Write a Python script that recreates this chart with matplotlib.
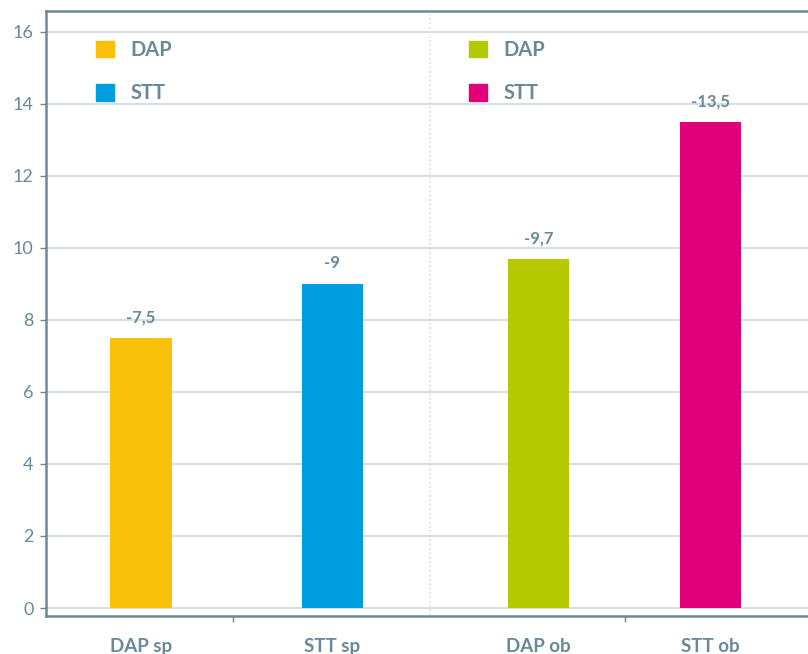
import matplotlib.pyplot as plt
from matplotlib.patches import Patch

plt.rcParams['font.family'] = ['Lato', 'DejaVu Sans']

categories = ['DAP sp', 'STT sp', 'DAP ob', 'STT ob']
values = [7.5, 9.0, 9.7, 13.5]
value_labels = ['-7,5', '-9', '-9,7', '-13,5']
colors = ['#FBC00A', '#009EE0', '#B5C900', '#E2007A']
legend_names = ['DAP', 'STT']

text_col = '#6A8898'
grid_col = '#CDD7E0'

# bar positions (two groups, slightly uneven like the original)
xpos = [0.0, 1.0, 2.08, 2.98]

fig = plt.figure(figsize=(8.08, 6.54), dpi=100)
ax = fig.add_axes([46 / 808, 1 - 616 / 654, 1 - 46 / 808, 605 / 654])

bars = ax.bar(xpos, values, width=0.32, color=colors, zorder=3)

for x, v, lab in zip(xpos, values, value_labels):
    ax.annotate(lab, (x, v), xytext=(0, 9), textcoords='offset points',
                ha='center', va='bottom', fontsize=12, fontweight='bold',
                color=text_col)

ax.set_ylim(-0.222, 16.58)
ax.set_xlim(-0.497, 3.49)
ax.set_yticks(range(0, 17, 2))
ax.yaxis.grid(True, color=grid_col, linewidth=1.2, zorder=0)

# group ticks between bars, labels under bars
ax.set_xticks([0.48, 2.53])
ax.set_xticklabels([])
ax.set_xticks(xpos, minor=True)
ax.set_xticklabels(categories, minor=True, fontsize=13.5, fontweight='bold',
                   color=text_col)
ax.tick_params(axis='x', which='minor', length=0, pad=15.5)
ax.tick_params(axis='x', which='major', length=4, width=1, color=text_col)
ax.tick_params(axis='y', length=4, width=1, color=text_col, labelcolor=text_col,
               labelsize=13, pad=5)

ax.axvline(1.51, color='#D5DCE2', linestyle=':', linewidth=1.2, zorder=1,
           ymin=0.0, ymax=0.995)

for s in ['left', 'bottom', 'top']:
    ax.spines[s].set_color(text_col)
    ax.spines[s].set_linewidth(1.8)
ax.spines['right'].set_visible(False)

h1 = [Patch(color=colors[0]), Patch(color=colors[1])]
h2 = [Patch(color=colors[2]), Patch(color=colors[3])]
common = dict(frameon=False, loc='upper left', handlelength=0.9,
              handleheight=0.9, handletextpad=0.8, labelspacing=1.15,
              borderpad=0, borderaxespad=0,
              prop={'size': 14.5, 'weight': 'bold'}, labelcolor=text_col)
leg1 = ax.legend(h1, legend_names, bbox_to_anchor=(0.0656, (616 - 40) / 605), **common)
ax.add_artist(leg1)
ax.legend(h2, legend_names, bbox_to_anchor=(0.555, (616 - 40) / 605), **common)

fig.savefig('out.png', dpi=100)
